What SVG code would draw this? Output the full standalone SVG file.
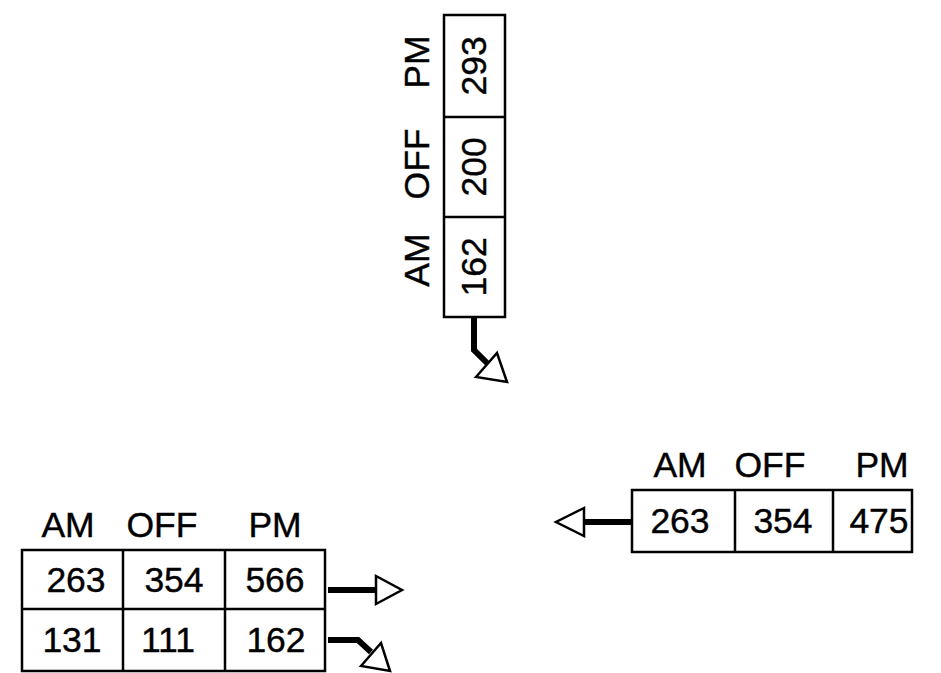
<svg xmlns="http://www.w3.org/2000/svg" width="941" height="673" viewBox="0 0 941 673">
<style>
.box{fill:#fff;stroke:#000;stroke-width:2.5}
.div{stroke:#000;stroke-width:2.5;fill:none}
.t{font-family:"Liberation Sans",Arial,sans-serif;font-size:35.5px;fill:#000;stroke:#000;stroke-width:0.4;text-anchor:middle;dominant-baseline:central}
.shaft{stroke:#000;stroke-width:6;fill:none;stroke-linejoin:miter}
.head{fill:#fff;stroke:#000;stroke-width:2.5;stroke-linejoin:miter}
</style>
<rect width="941" height="673" fill="#fff"/>
<g id="node-top">
<rect class="box" x="444" y="15" width="61" height="302"/>
<line class="div" x1="444" y1="117" x2="505" y2="117"/>
<line class="div" x1="444" y1="217" x2="505" y2="217"/>
<text class="t" transform="translate(417,62) rotate(-90)">PM</text>
<text class="t" transform="translate(417,164) rotate(-90)">OFF</text>
<text class="t" transform="translate(417,260) rotate(-90)">AM</text>
<text class="t" transform="translate(474,66) rotate(-90)">293</text>
<text class="t" transform="translate(474,167) rotate(-90)">200</text>
<text class="t" transform="translate(474,267) rotate(-90)">162</text>
</g>
<g id="node-right">
<rect class="box" x="632" y="490" width="280" height="62"/>
<line class="div" x1="735" y1="490" x2="735" y2="552"/>
<line class="div" x1="833" y1="490" x2="833" y2="552"/>
<text class="t" x="680" y="465">AM</text>
<text class="t" x="770" y="465">OFF</text>
<text class="t" x="882" y="465">PM</text>
<text class="t" x="680" y="521">263</text>
<text class="t" x="783" y="521">354</text>
<text class="t" x="879" y="521">475</text>
</g>
<g id="node-left">
<rect class="box" x="22" y="550" width="303" height="121"/>
<line class="div" x1="22" y1="609" x2="325" y2="609"/>
<line class="div" x1="123" y1="550" x2="123" y2="671"/>
<line class="div" x1="225" y1="550" x2="225" y2="671"/>
<text class="t" x="68" y="525">AM</text>
<text class="t" x="162" y="525">OFF</text>
<text class="t" x="275" y="525">PM</text>
<text class="t" x="76" y="580">263</text>
<text class="t" x="174" y="580">354</text>
<text class="t" x="275" y="580">566</text>
<text class="t" x="72" y="640">131</text>
<text class="t" x="168" y="640">111</text>
<text class="t" x="276" y="640">162</text>
</g>
<g id="connectors">
<polyline class="shaft" points="474,317 474,350 488,364"/>
<polygon class="head" points="476,377 497,353 507,382"/>
<line class="shaft" x1="632" y1="522" x2="584" y2="522"/>
<polygon class="head" points="584,508 556,522 584,536"/>
<line class="shaft" x1="328" y1="590" x2="376" y2="590"/>
<polygon class="head" points="376,576 402,590 376,604"/>
<polyline class="shaft" points="328,640 358,640 371,652"/>
<polygon class="head" points="361,666 381,643 390,671"/>
</g>
</svg>
